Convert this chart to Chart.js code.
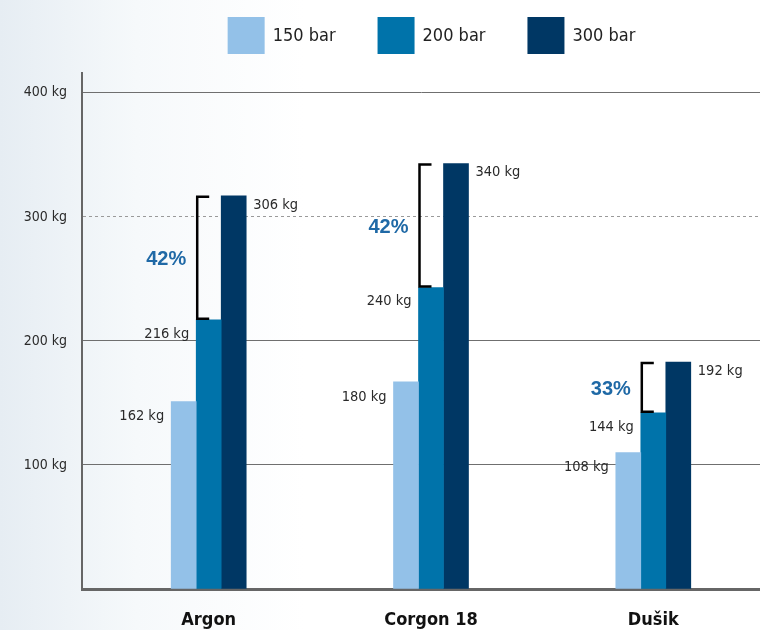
<!DOCTYPE html>
<html>
<head>
<meta charset="utf-8">
<script src="https://cdn.jsdelivr.net/npm/chart.js@4/dist/chart.umd.min.js"></script>
<style>
  html, body { margin: 0; padding: 0; }
  body {
    width: 760px; height: 630px; overflow: hidden;
    background: linear-gradient(to right, #e6edf3 0%, #f6f9fb 18%, #ffffff 40%);
  }
</style>
</head>
<body>
<canvas id="gasChart" width="760" height="630"></canvas>
<script>
// podaci
const categories = ['Argon', 'Corgon 18', 'Dušik'];
const seriesNames = ['150 bar', '200 bar', '300 bar'];
const seriesColors = ['#93c1e8', '#0073aa', '#003764'];
// visine stupaca kako su nacrtane
const bar150 = [151, 167, 110];
const bar200 = [217, 243, 142];
const bar300 = [317, 343, 183];
// natpisi uz stupce
const label150 = [162, 180, 108];
const label200 = [216, 240, 144];
const label300 = [306, 340, 192];
const yTicks = [100, 200, 300, 400];

const FONT = "'Liberation Sans Narrow', 'DejaVu Sans Condensed', 'Liberation Sans', sans-serif";

// legenda
const legendPlugin = {
    id: 'customLegend',
    afterDraw(chart) {
        const ctx = chart.ctx;
        ctx.save();
        ctx.font = '18px ' + FONT;
        const box = 37, gap = 8, space = 42;
        const widths = seriesNames.map(n => ctx.measureText(n).width);
        let total = 0;
        widths.forEach((w, i) => { total += box + gap + w + (i < widths.length - 1 ? space : 0); });
        let x = 431.5 - total / 2;
        const top = 17;
        seriesNames.forEach((name, i) => {
            ctx.fillStyle = seriesColors[i];
            ctx.fillRect(x, top, box, box);
            ctx.fillStyle = '#222';
            ctx.textAlign = 'left';
            ctx.textBaseline = 'middle';
            ctx.fillText(name, x + box + gap, top + box / 2 + 1);
            x += box + gap + widths[i] + space;
        });
        ctx.restore();
    }
};

// natpisi, zagrade i postoci
const annotationPlugin = {
    id: 'annotations',
    afterDatasetsDraw(chart) {
        const ctx = chart.ctx;
        const m150 = chart.getDatasetMeta(0).data;
        const m200 = chart.getDatasetMeta(1).data;
        const m300 = chart.getDatasetMeta(2).data;
        ctx.save();
        ctx.textBaseline = 'middle';
        categories.forEach((c, i) => {
            const a = m150[i], b = m200[i], d = m300[i];
            ctx.font = '14.5px ' + FONT;
            ctx.fillStyle = '#2a2a2a';
            ctx.textAlign = 'left';
            ctx.fillText(label300[i] + ' kg', d.x + d.width / 2 + 7, d.y + 9);
            ctx.textAlign = 'right';
            ctx.fillText(label200[i] + ' kg', b.x - b.width / 2 - 7, b.y + 14);
            ctx.fillText(label150[i] + ' kg', a.x - a.width / 2 - 7, a.y + 15);

            // zagrada
            const bx = b.x - b.width / 2 + 1;
            ctx.strokeStyle = '#000';
            ctx.lineWidth = 2.5;
            ctx.beginPath();
            ctx.moveTo(bx + 12, d.y + 1);
            ctx.lineTo(bx, d.y + 1);
            ctx.lineTo(bx, b.y - 1);
            ctx.lineTo(bx + 12, b.y - 1);
            ctx.stroke();

            const pct = Math.round((label300[i] / label200[i] - 1) * 100);
            ctx.font = 'bold 20px ' + "'Liberation Sans', sans-serif";
            ctx.fillStyle = '#1f69a6';
            ctx.textAlign = 'center';
            ctx.fillText(pct + '%', bx - 31, (d.y + b.y) / 2 + 2);
        });
        ctx.restore();
    }
};

function makeData(values) {
    return values.map((v, i) => ({ x: i, y: v }));
}

function createGasChart() {
    const ctx = document.getElementById('gasChart').getContext('2d');
    new Chart(ctx, {
        type: 'bar',
        data: {
            datasets: [bar150, bar200, bar300].map((vals, i) => ({
                label: seriesNames[i],
                data: makeData(vals),
                backgroundColor: seriesColors[i],
                borderWidth: 0,
                barThickness: 25
            }))
        },
        options: {
            responsive: false,
            animation: false,
            layout: { padding: { top: 73, left: 0, right: 0, bottom: 0 } },
            plugins: {
                legend: { display: false },
                tooltip: { enabled: false }
            },
            scales: {
                x: {
                    type: 'linear',
                    min: -0.57,
                    max: 2.48,
                    offset: false,
                    afterBuildTicks: s => { s.ticks = categories.map((_, i) => ({ value: i })); },
                    afterFit: s => { s.height = 41; },
                    grid: { display: false, drawTicks: false },
                    border: { display: true, color: '#666', width: 3 },
                    ticks: {
                        autoSkip: false,
                        maxRotation: 0,
                        padding: 21,
                        color: '#111',
                        font: { family: FONT, size: 18, weight: 'bold' },
                        callback: v => categories[v]
                    }
                },
                y: {
                    min: 0,
                    max: 416,
                    afterBuildTicks: s => { s.ticks = [0].concat(yTicks).map(v => ({ value: v })); },
                    afterFit: s => { s.width = 82; },
                    grid: {
                        drawTicks: false,
                        lineWidth: 1,
                        color: c => {
                            if (!c.tick || c.tick.value === 0) return 'rgba(0,0,0,0)';
                            return c.tick.value === 300 ? '#9a9a9a' : '#6f6f6f';
                        }
                    },
                    border: {
                        display: true,
                        color: '#666',
                        width: 2,
                        dash: c => (c.tick && c.tick.value === 300 ? [3, 3] : [])
                    },
                    ticks: {
                        padding: 15,
                        color: '#2a2a2a',
                        font: { family: FONT, size: 14 },
                        callback: v => (v === 0 ? '' : v + ' kg')
                    }
                }
            }
        },
        plugins: [legendPlugin, annotationPlugin]
    });
}

document.addEventListener('DOMContentLoaded', function() {
    createGasChart();
});
</script>
</body>
</html>
